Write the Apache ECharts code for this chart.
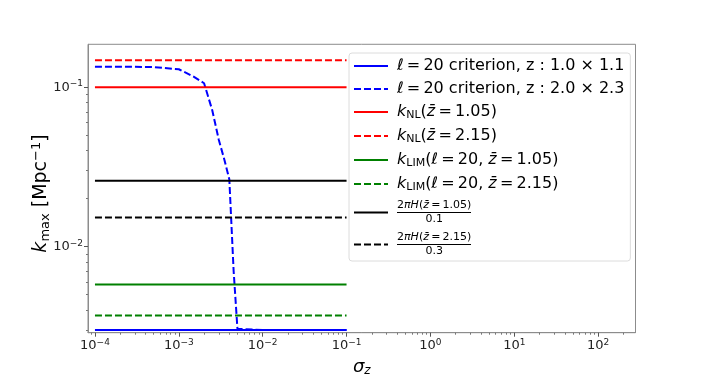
<!DOCTYPE html>
<html>
<head>
<meta charset="utf-8">
<script src="https://cdn.jsdelivr.net/npm/echarts@6/dist/echarts.min.js"></script>
<style>html,body{margin:0;padding:0;background:#fff}#c{width:706px;height:375px}</style>
</head>
<body>
<div id="c"></div>
<script>
// ---- data ----
var lineX = [1e-4, 1e-1];
var blueSolidY = 0.0030;
var blueDashX = [1e-4, 2e-4, 5e-4, 1e-3, 1.5e-3, 2e-3, 2.5e-3, 3e-3, 3.5e-3, 4e-3, 4.5e-3, 5e-3, 1e-2, 1e-1];
var blueDashY = [0.1346, 0.1345, 0.134, 0.1297, 0.1166, 0.106, 0.072, 0.0467, 0.035, 0.0265, 0.0071, 0.00306, 0.0030, 0.0030];
var kNL = [0.1, 0.148];          // z=1.05, z=2.15
var kLIM = [0.0058, 0.00371];    // z=1.05, z=2.15
var hubble = [0.0259, 0.01528];  // 2πH/0.1, 2πH/0.3
var xTickExps = [-4, -3, -2, -1, 0, 1, 2];
var yTickExps = [-2, -1];
var xRange = [Math.pow(10, -4.083), 279];
var yRange = [0.00289, 0.186];
var seriesNames = ['s1','s2','s3','s4','s5','s6','s7','s8'];
var T = '\u2009';
var legendTexts = {
  s1: '{it|ℓ}' + T + '=' + T + '20 criterion, z : 1.0 × 1.1',
  s2: '{it|ℓ}' + T + '=' + T + '20 criterion, z : 2.0 × 2.3',
  s3: '{it|k}{sub|NL}({it|z\u0304}' + T + '=' + T + '1.05)',
  s4: '{it|k}{sub|NL}({it|z\u0304}' + T + '=' + T + '2.15)',
  s5: '{it|k}{sub|LIM}({it|ℓ}' + T + '=' + T + '20, {it|z\u0304}' + T + '=' + T + '1.05)',
  s6: '{it|k}{sub|LIM}({it|ℓ}' + T + '=' + T + '20, {it|z\u0304}' + T + '=' + T + '2.15)',
  s7: '{num|2}{nit|πH}{num|(}{nit|z\u0304}{num|' + T + '=' + T + '1.05)}\n{bar| }\n{den|0.1}',
  s8: '{num|2}{nit|πH}{num|(}{nit|z\u0304}{num|' + T + '=' + T + '2.15)}\n{bar| }\n{den|0.3}'
};

// ---- helpers ----
function hline(v){ return lineX.map(function(x){ return [x, v]; }); }
function majors(exps){ return exps.map(function(e){ return Math.pow(10, e); }); }
function minors(exps, lo, hi){
  var out = [];
  for (var e = exps[0]-1; e <= exps[exps.length-1]; e++) {
    for (var m = 2; m <= 9; m++) {
      var v = m * Math.pow(10, e);
      if (v > lo && v < hi) out.push(v);
    }
  }
  return out;
}
function powLabel(v){
  var e = Math.round(Math.log10(v));
  return '10{sup|' + String(e).replace('-', '\u2212') + '}';
}
var FONT = 'DejaVu Sans';
var tickRich = { sup: { fontSize: 9, fontFamily: FONT, color: '#222', padding: [0,0,7,0] } };
var blueDash = blueDashX.map(function(x, i){ return [x, blueDashY[i]]; });

var axisCol = '#8c8c8c';
var chart = echarts.init(document.getElementById('c'), null, {renderer: 'canvas'});
var dash = [7, 3];
function ser(name, data, color, dashed){
  return { name: name, type: 'line', data: data, symbol: 'none', showSymbol: false, xAxisIndex: 0, yAxisIndex: 0,
    lineStyle: { color: color, width: 2, type: dashed ? dash : 'solid' }, itemStyle: { color: color },
    animation: false };
}
chart.setOption({
  backgroundColor: '#fff',
  animation: false,
  grid: { left: 88, right: 70.5, top: 44.3, bottom: 42.3, show: true, borderColor: axisCol, borderWidth: 1,
    backgroundColor: 'transparent', containLabel: false, outerBoundsMode: 'none' },
  xAxis: [{
    type: 'log', logBase: 10, min: xRange[0], max: xRange[1], gridIndex: 0, position: 'bottom',
    axisLine: { show: true, lineStyle: { color: axisCol, width: 1 } },
    axisTick: { show: true, length: 4, lineStyle: { color: '#555' }, customValues: majors(xTickExps) },
    axisLabel: { customValues: majors(xTickExps), formatter: powLabel, fontSize: 13, fontFamily: FONT, color: '#222', margin: 5, rich: tickRich },
    splitLine: { show: false }, minorTick: { show: false },
    name: '{it|σ}{sub|z}', nameLocation: 'middle', nameGap: 25, nameMoveOverlap: false,
    nameTextStyle: { fontSize: 18, fontFamily: FONT, color: '#000', rich: {
      it: { fontSize: 18, fontStyle: 'italic', fontFamily: FONT },
      sub: { fontSize: 12, fontStyle: 'italic', fontFamily: FONT, padding: [7,0,0,0] } } }
  }, {
    type: 'log', logBase: 10, min: xRange[0], max: xRange[1], gridIndex: 0, position: 'bottom',
    axisLine: { show: false },
    axisTick: { show: true, length: 2, lineStyle: { color: '#777' }, customValues: minors(xTickExps, xRange[0], xRange[1]) },
    axisLabel: { show: false }, splitLine: { show: false }
  }],
  yAxis: [{
    type: 'log', logBase: 10, min: yRange[0], max: yRange[1], gridIndex: 0, position: 'left',
    axisLine: { show: true, lineStyle: { color: axisCol, width: 1 } },
    axisTick: { show: true, length: 4, lineStyle: { color: '#555' }, customValues: majors(yTickExps) },
    axisLabel: { customValues: majors(yTickExps), formatter: powLabel, fontSize: 13, fontFamily: FONT, color: '#222', margin: 5, rich: tickRich },
    splitLine: { show: false },
    name: '{it|k}{sub|max} [Mpc{sup|−1}]', nameLocation: 'middle', nameGap: 36, nameRotate: 90, nameMoveOverlap: false,
    nameTextStyle: { fontSize: 19, fontFamily: FONT, color: '#000', padding: [0, 10, 0, 0], rich: {
      it: { fontSize: 19, fontStyle: 'italic', fontFamily: FONT },
      sub: { fontSize: 13, fontFamily: FONT, padding: [9,0,0,0] },
      sup: { fontSize: 13, fontFamily: FONT, padding: [0,0,9,0] } } }
  }, {
    type: 'log', logBase: 10, min: yRange[0], max: yRange[1], gridIndex: 0, position: 'left',
    axisLine: { show: false },
    axisTick: { show: true, length: 2, lineStyle: { color: '#777' }, customValues: minors(yTickExps, yRange[0], yRange[1]) },
    axisLabel: { show: false }, splitLine: { show: false }
  }],
  legend: {
    show: true, orient: 'vertical', left: 349, top: 53,
    padding: [5, 6, 4, 4], itemGap: 7, itemWidth: 34, itemHeight: 14,
    backgroundColor: '#fff', borderColor: '#dcdcdc', borderWidth: 1, borderRadius: 3,
    itemStyle: { opacity: 0 },
    data: seriesNames,
    formatter: function(n){ return legendTexts[n]; },
    textStyle: { fontSize: 16, fontFamily: FONT, color: '#000', padding: [0,0,0,4], rich: {
      it: { fontSize: 16, fontStyle: 'italic', fontFamily: FONT },
      sub: { fontSize: 11, fontFamily: FONT, padding: [7,0,0,0] },
      num: { fontSize: 11, fontFamily: FONT, lineHeight: 12 },
      nit: { fontSize: 11, fontStyle: 'italic', fontFamily: FONT, lineHeight: 12 },
      bar: { fontSize: 1, lineHeight: 2, height: 1, width: 74, backgroundColor: '#000' },
      den: { fontSize: 11, fontFamily: FONT, width: 74, align: 'center', lineHeight: 12 }
    } }
  },
  series: [
    ser('s1', hline(blueSolidY), '#0000ff', false),
    ser('s2', blueDash, '#0000ff', true),
    ser('s3', hline(kNL[0]), '#ff0000', false),
    ser('s4', hline(kNL[1]), '#ff0000', true),
    ser('s5', hline(kLIM[0]), '#008000', false),
    ser('s6', hline(kLIM[1]), '#008000', true),
    ser('s7', hline(hubble[0]), '#000000', false),
    ser('s8', hline(hubble[1]), '#000000', true)
  ]
});
</script>
</body>
</html>
